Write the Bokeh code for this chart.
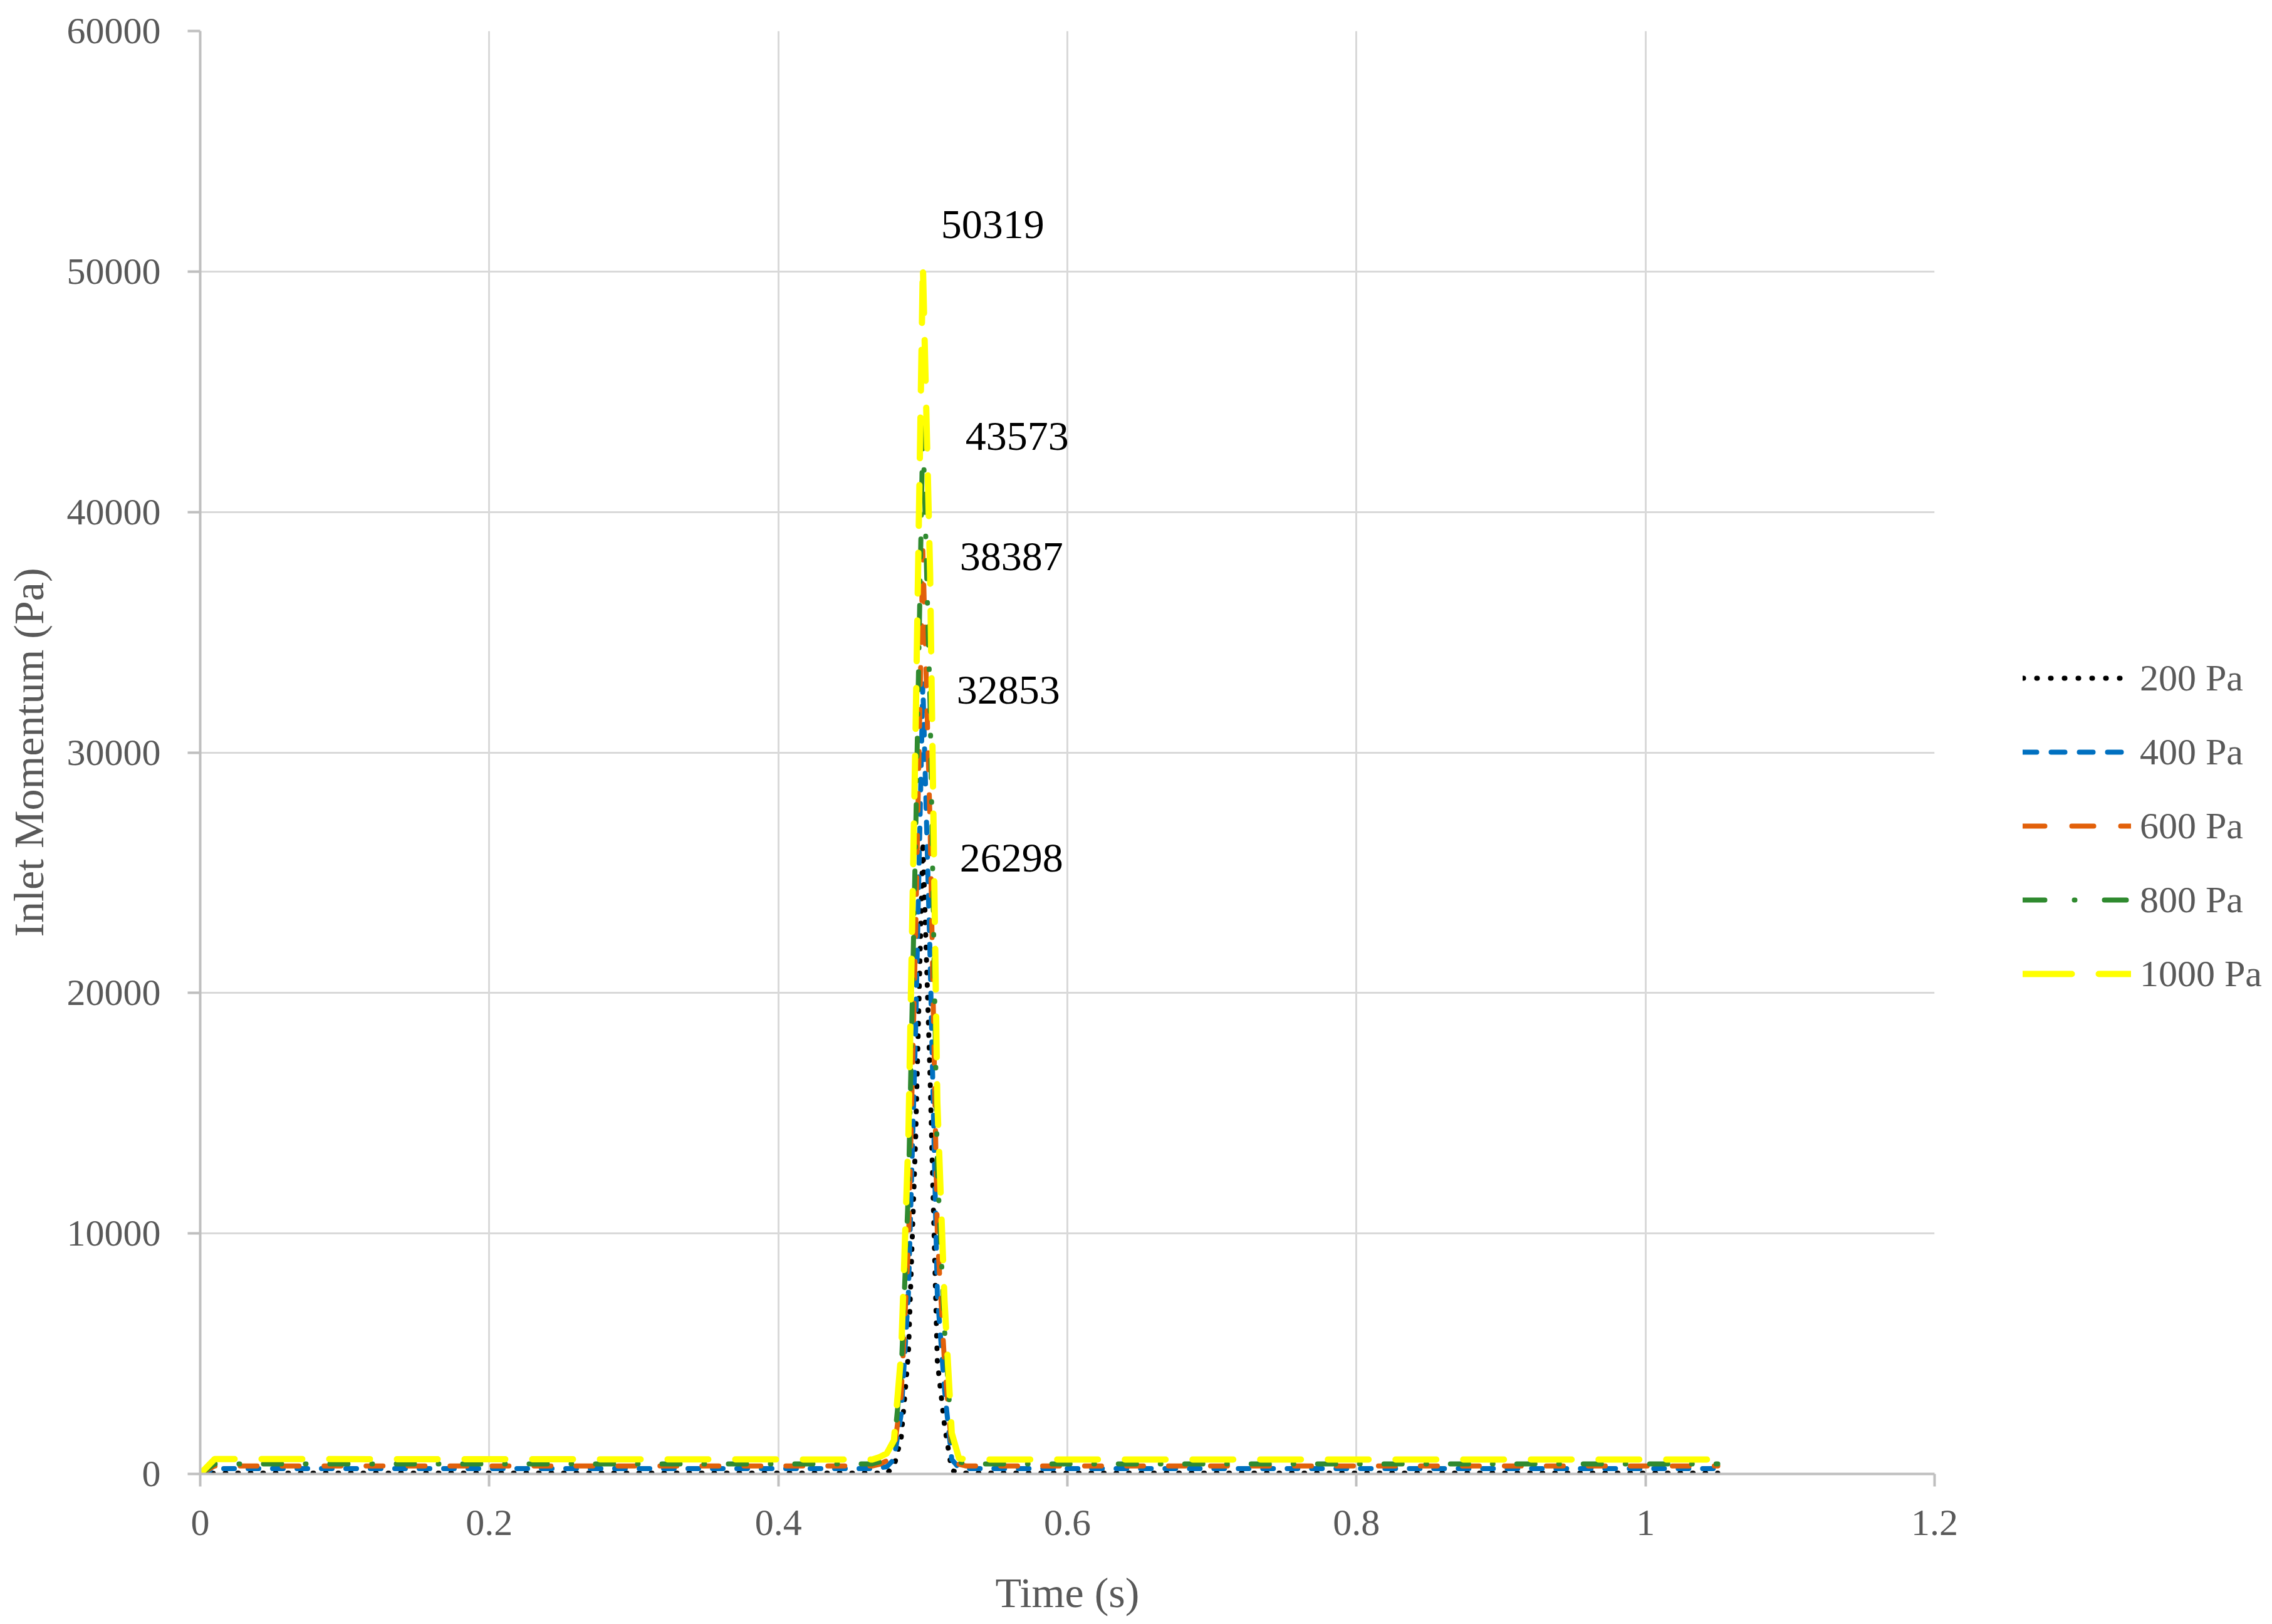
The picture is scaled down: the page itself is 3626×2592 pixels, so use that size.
from bokeh.plotting import figure
from bokeh.layouts import row
from bokeh.models import Range1d, FixedTicker, Legend, LegendItem, ColumnDataSource
from bokeh.core.properties import value
from bokeh.embed import file_html
from bokeh.resources import INLINE

# ---------------- data ----------------
time_s = [0, 0.01, 0.465, 0.47, 0.475, 0.48, 0.485, 0.49, 0.495, 0.5,
          0.505, 0.51, 0.515, 0.52, 0.525, 0.53, 1.05]
p200 = [0, 30, 30, 30, 30, 300, 1500, 5000, 14000, 26298,
        16500, 4700, 2000, 150, 30, 30, 30]
p400 = [0, 220, 220, 250, 300, 600, 2500, 7500, 18500, 32853,
        21500, 7500, 3500, 600, 250, 220, 220]
p600 = [0, 330, 330, 400, 550, 900, 3300, 9500, 22500, 38387,
        27000, 10000, 4600, 1000, 400, 330, 330]
p800 = [0, 420, 420, 500, 700, 1200, 4200, 11800, 26500, 43573,
        32000, 12800, 6000, 1400, 500, 420, 420]
p1000 = [0, 620, 600, 700, 850, 1400, 5000, 14000, 31000, 50319,
         37500, 15500, 7200, 1700, 650, 600, 600]

series_names = ["200 Pa", "400 Pa", "600 Pa", "800 Pa", "1000 Pa"]
series_values = [p200, p400, p600, p800, p1000]

x_ticks = [0, 0.2, 0.4, 0.6, 0.8, 1.0, 1.2]
x_tick_labels = ["0", "0.2", "0.4", "0.6", "0.8", "1", "1.2"]
y_ticks = [0, 10000, 20000, 30000, 40000, 50000, 60000]
y_tick_labels = ["0", "10000", "20000", "30000", "40000", "50000", "60000"]

# ---------------- styles ----------------
colors = ["#000000", "#0070C0", "#E2600A", "#2F8A2F", "#FFFF00"]
widths = [8, 8, 8, 8, 10]
dashes = ["1 19", "17 22", "27 40", "29 38 1 38", "65 43"]
legend_dashes = ["1 21", "22 23", "35 43", "35 47 1 47", "78 43"]
label_dx = [59, 54, 59, 68, 29]
label_dy = [26, 10, 9, 16, -63]

FONT = "Liberation Serif"
GRAY_TXT = "#595959"
TOTAL_W, TOTAL_H = 3626, 2592
MAIN_W = 3137

p = figure(width=MAIN_W, height=TOTAL_H, output_backend="svg", toolbar_location=None,
           x_range=Range1d(0, 1.2), y_range=Range1d(0, 60000),
           min_border_left=319, min_border_right=50,
           min_border_top=49, min_border_bottom=240)
p.outline_line_color = None
p.background_fill_color = "white"
p.border_fill_color = "white"

for name, vals, c, w, d in zip(series_names, series_values, colors, widths, dashes):
    p.line(time_s, vals, line_color=c, line_width=w, line_dash=d,
           line_cap="round", line_join="round")

# peak annotations
peak_t = [time_s[v.index(max(v))] for v in series_values]
peak_v = [max(v) for v in series_values]
src = ColumnDataSource(dict(x=peak_t, y=peak_v, t=[str(v) for v in peak_v],
                            dx=label_dx, dy=label_dy))
p.text(x="x", y="y", text="t", x_offset="dx", y_offset="dy", source=src,
       text_font=value(FONT), text_font_size="66px", text_color="#000000",
       text_align="left", text_baseline="middle")

# axes
for ax in (p.xaxis[0], p.yaxis[0]):
    ax.axis_line_color = "#BFBFBF"
    ax.axis_line_width = 4
    ax.major_tick_line_color = "#BFBFBF"
    ax.major_tick_line_width = 4
    ax.major_tick_out = 20
    ax.major_tick_in = 0
    ax.minor_tick_line_color = None
    ax.major_label_text_font = FONT
    ax.major_label_text_font_size = "60px"
    ax.major_label_text_color = GRAY_TXT
    ax.axis_label_text_font = FONT
    ax.axis_label_text_font_size = "68px"
    ax.axis_label_text_font_style = "normal"
    ax.axis_label_text_color = GRAY_TXT

p.xaxis.ticker = FixedTicker(ticks=x_ticks)
p.xaxis.major_label_overrides = {t: l for t, l in zip(x_ticks, x_tick_labels)}
p.yaxis.ticker = FixedTicker(ticks=y_ticks)
p.yaxis.major_label_overrides = {t: l for t, l in zip(y_ticks, y_tick_labels)}
p.xaxis.axis_label = "Time (s)"
p.yaxis.axis_label = "Inlet Momentum (Pa)"
p.xaxis.major_label_standoff = 38
p.yaxis.major_label_standoff = 43
p.xaxis.axis_label_standoff = 51
p.yaxis.axis_label_standoff = 20

p.xgrid.grid_line_color = "#D9D9D9"
p.xgrid.grid_line_width = 3
p.ygrid.grid_line_color = "#D9D9D9"
p.ygrid.grid_line_width = 3

# ---------------- legend panel (separate figure to the right) ----------------
lg = figure(width=TOTAL_W - MAIN_W, height=TOTAL_H, output_backend="svg",
            toolbar_location=None, x_range=Range1d(0, 1), y_range=Range1d(0, 1),
            min_border_left=0, min_border_right=0, min_border_top=0, min_border_bottom=0)
lg.axis.visible = False
lg.grid.visible = False
lg.outline_line_color = None
lg.background_fill_color = "white"
lg.border_fill_color = "white"

items = []
for name, c, w, d in zip(series_names, colors, widths, legend_dashes):
    # proxy renderer, drawn outside the visible range; only its style feeds the legend
    r = lg.line(x=[5, 6], y=[5, 6], line_color=c, line_width=w, line_dash=d,
                line_cap="round", line_join="round")
    items.append(LegendItem(label=name, renderers=[r]))

legend = Legend(items=items, location=(91, 739), glyph_width=173, glyph_height=118,
                spacing=0, padding=0, margin=0, label_standoff=14,
                border_line_color=None, background_fill_alpha=0,
                label_text_font=FONT, label_text_font_size="60px",
                label_text_color=GRAY_TXT)
lg.add_layout(legend, "center")

layout = row(p, lg, spacing=0)
open("out.html", "w").write(file_html(layout, INLINE))
